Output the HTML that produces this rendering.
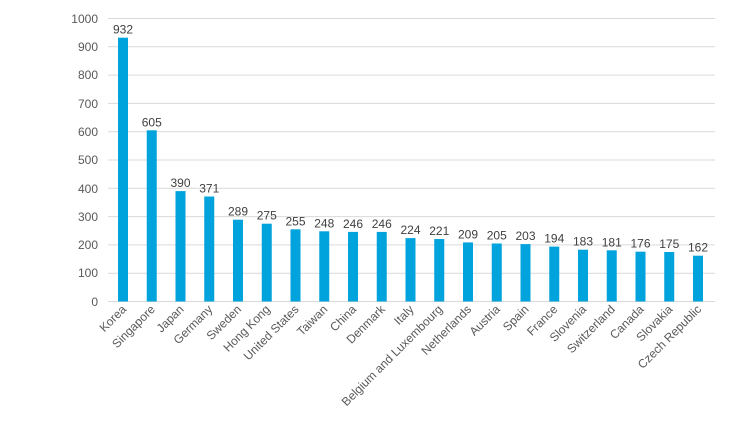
<!DOCTYPE html>
<html><head><style>body{margin:0;background:#fff}</style></head><body>
<svg width="752" height="423" xmlns="http://www.w3.org/2000/svg" font-family="Liberation Sans, sans-serif">
<g stroke="#d9d9d9" stroke-width="1">
<line x1="108" x2="715" y1="18.5" y2="18.5"/><line x1="108" x2="715" y1="46.8" y2="46.8"/><line x1="108" x2="715" y1="75.1" y2="75.1"/><line x1="108" x2="715" y1="103.4" y2="103.4"/><line x1="108" x2="715" y1="131.7" y2="131.7"/><line x1="108" x2="715" y1="160" y2="160"/><line x1="108" x2="715" y1="188.3" y2="188.3"/><line x1="108" x2="715" y1="216.6" y2="216.6"/><line x1="108" x2="715" y1="244.9" y2="244.9"/><line x1="108" x2="715" y1="273.2" y2="273.2"/><line x1="108" x2="715" y1="301.5" y2="301.5"/>
</g>
<g font-size="12" fill="#595959" text-anchor="end">
<text x="98" y="23">1000</text><text x="98" y="51">900</text><text x="98" y="79">800</text><text x="98" y="108">700</text><text x="98" y="136">600</text><text x="98" y="164">500</text><text x="98" y="193">400</text><text x="98" y="221">300</text><text x="98" y="249">200</text><text x="98" y="277">100</text><text x="98" y="306">0</text>
</g>
<g fill="#00a3dc">
<rect x="118" y="37.7" width="10" height="263.8"/>
<rect x="146.75" y="130.3" width="10" height="171.2"/>
<rect x="175.5" y="191.1" width="10" height="110.4"/>
<rect x="204.25" y="196.5" width="10" height="105"/>
<rect x="233" y="219.7" width="10" height="81.8"/>
<rect x="261.75" y="223.7" width="10" height="77.8"/>
<rect x="290.5" y="229.3" width="10" height="72.2"/>
<rect x="319.25" y="231.3" width="10" height="70.2"/>
<rect x="348" y="231.9" width="10" height="69.6"/>
<rect x="376.75" y="231.9" width="10" height="69.6"/>
<rect x="405.5" y="238.1" width="10" height="63.4"/>
<rect x="434.25" y="239" width="10" height="62.5"/>
<rect x="463" y="242.4" width="10" height="59.1"/>
<rect x="491.75" y="243.5" width="10" height="58"/>
<rect x="520.5" y="244.1" width="10" height="57.4"/>
<rect x="549.25" y="246.6" width="10" height="54.9"/>
<rect x="578" y="249.7" width="10" height="51.8"/>
<rect x="606.75" y="250.3" width="10" height="51.2"/>
<rect x="635.5" y="251.7" width="10" height="49.8"/>
<rect x="664.25" y="252" width="10" height="49.5"/>
<rect x="693" y="255.7" width="10" height="45.8"/>
</g>
<g font-size="12" fill="#404040" text-anchor="middle">
<text x="123" y="33.7">932</text>
<text x="151.75" y="126.3">605</text>
<text x="180.5" y="187.1">390</text>
<text x="209.25" y="192.5">371</text>
<text x="238" y="215.7">289</text>
<text x="266.75" y="219.7">275</text>
<text x="295.5" y="225.3">255</text>
<text x="324.25" y="227.3">248</text>
<text x="353" y="227.9">246</text>
<text x="381.75" y="227.9">246</text>
<text x="410.5" y="234.1">224</text>
<text x="439.25" y="235">221</text>
<text x="468" y="238.4">209</text>
<text x="496.75" y="239.5">205</text>
<text x="525.5" y="240.1">203</text>
<text x="554.25" y="242.6">194</text>
<text x="583" y="245.7">183</text>
<text x="611.75" y="246.3">181</text>
<text x="640.5" y="247.7">176</text>
<text x="669.25" y="248">175</text>
<text x="698" y="251.7">162</text>
</g>
<g font-size="12" fill="#595959" text-anchor="end">
<text transform="translate(127,310) rotate(-45)">Korea</text>
<text transform="translate(155.75,310) rotate(-45)">Singapore</text>
<text transform="translate(184.5,310) rotate(-45)">Japan</text>
<text transform="translate(213.25,310) rotate(-45)">Germany</text>
<text transform="translate(242,310) rotate(-45)">Sweden</text>
<text transform="translate(270.75,310) rotate(-45)">Hong Kong</text>
<text transform="translate(299.5,310) rotate(-45)">United States</text>
<text transform="translate(328.25,310) rotate(-45)">Taiwan</text>
<text transform="translate(357,310) rotate(-45)">China</text>
<text transform="translate(385.75,310) rotate(-45)">Denmark</text>
<text transform="translate(414.5,310) rotate(-45)">Italy</text>
<text transform="translate(443.25,310) rotate(-45)">Belgium and Luxembourg</text>
<text transform="translate(472,310) rotate(-45)">Netherlands</text>
<text transform="translate(500.75,310) rotate(-45)">Austria</text>
<text transform="translate(529.5,310) rotate(-45)">Spain</text>
<text transform="translate(558.25,310) rotate(-45)">France</text>
<text transform="translate(587,310) rotate(-45)">Slovenia</text>
<text transform="translate(615.75,310) rotate(-45)">Switzerland</text>
<text transform="translate(644.5,310) rotate(-45)">Canada</text>
<text transform="translate(673.25,310) rotate(-45)">Slovakia</text>
<text transform="translate(702,310) rotate(-45)">Czech Republic</text>
</g>
</svg>
</body></html>
